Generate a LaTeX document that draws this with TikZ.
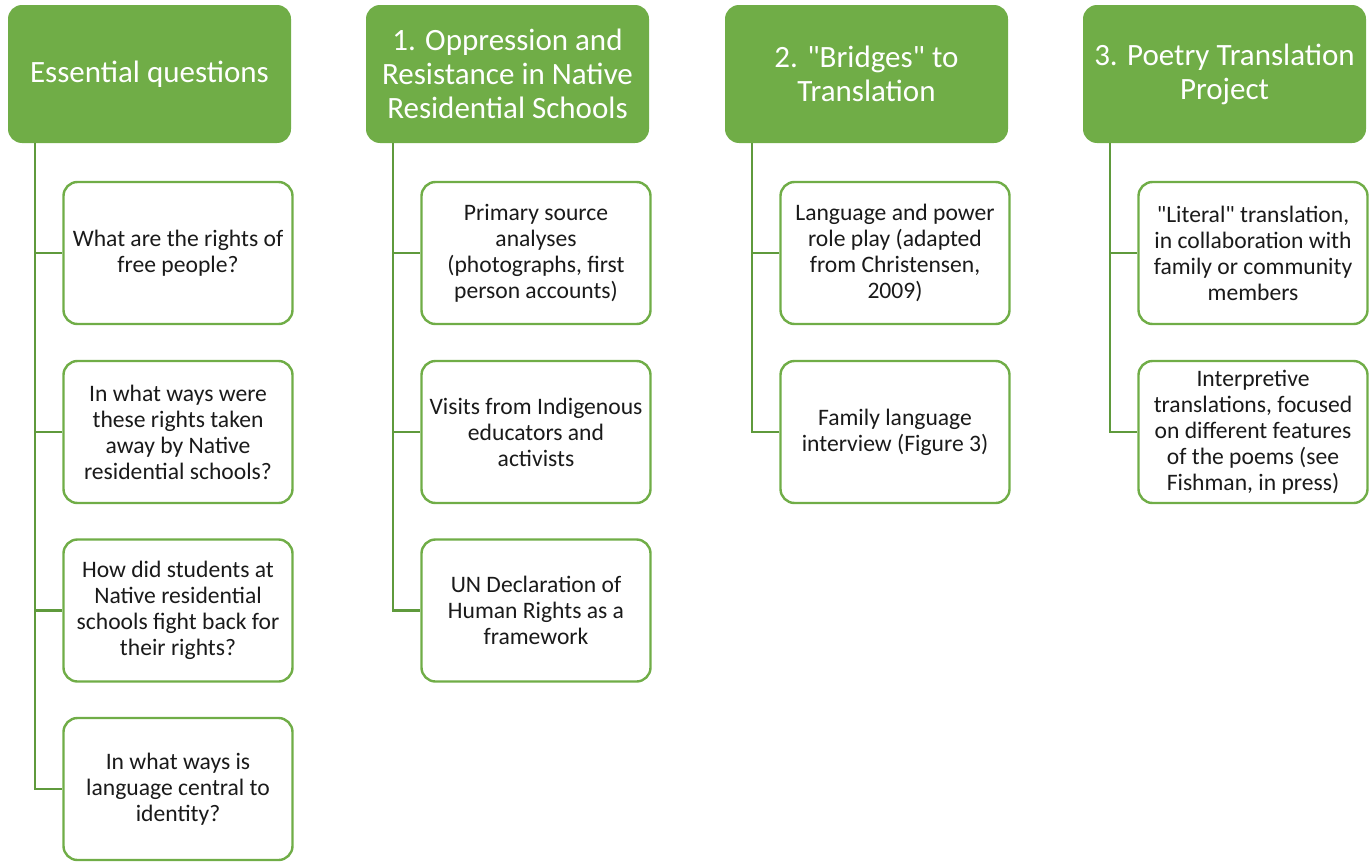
\documentclass[tikz,border=0pt]{standalone}
\usepackage{fontspec}
\setmainfont{Carlito}[Ligatures=TeXOff]
\definecolor{hdrgreen}{HTML}{70AD47}
\definecolor{linegreen}{HTML}{5F9A3C}
\definecolor{txt}{HTML}{1A1A1A}
\newcommand{\dq}{{\char34}}
\begin{document}
\begin{tikzpicture}[x=1pt,y=-1pt,
  header/.style={draw=none,fill=hdrgreen,rounded corners=14pt,minimum width=283pt,minimum height=138pt,
    text=white,align=center,font=\fontsize{31}{34}\selectfont,inner sep=0pt},
  child/.style={draw=hdrgreen,line width=2.4pt,fill=white,rounded corners=14pt,minimum width=229pt,minimum height=142pt,
    text=txt,align=center,font=\fontsize{23.6}{26}\selectfont,inner sep=0pt},
  conn/.style={draw=linegreen,line width=2.6pt}]
\useasboundingbox (0,0) rectangle (1371,862);
% headers
\node[header] (h1) at (149.5,74) {Essential questions};
\node[header] (h2) at (507.5,74) {1. Oppression and\\Resistance in Native\\Residential Schools};
\node[header] (h3) at (866.5,74) {2. \dq Bridges\dq{} to\\Translation};
\node[header] (h4) at (1224.5,74) {3. Poetry Translation\\Project};
% children column 1
\node[child] (a1) at (178,253) {What are the rights of\\free people?};
\node[child] (a2) at (178,432) {In what ways were\\these rights taken\\away by Native\\residential schools?};
\node[child] (a3) at (178,610.5) {How did students at\\Native residential\\schools fight back for\\their rights?};
\node[child] (a4) at (178,789) {In what ways is\\language central to\\identity?};
% column 2
\node[child] (b1) at (536,253) {Primary source\\analyses\\(photographs, first\\person accounts)};
\node[child] (b2) at (536,432) {Visits from Indigenous\\educators and\\activists};
\node[child] (b3) at (536,610.5) {UN Declaration of\\Human Rights as a\\framework};
% column 3
\node[child] (c1) at (895,253) {Language and power\\role play (adapted\\from Christensen,\\2009)};
\node[child] (c2) at (895,432) {Family language\\interview (Figure 3)};
% column 4
\node[child] (d1) at (1253,253) {\dq Literal\dq{} translation,\\in collaboration with\\family or community\\members};
\node[child] (d2) at (1253,432) {Interpretive\\translations, focused\\on different features\\of the poems (see\\Fishman, in press)};
% connectors
\foreach \h/\x/\c in {h1/35/a1,h1/35/a2,h1/35/a3,h1/35/a4,h2/393/b1,h2/393/b2,h2/393/b3,h3/752/c1,h3/752/c2,h4/1110/d1,h4/1110/d2}{
  \draw[conn] (\h.south -| \x,0) |- (\c.west);
}
\end{tikzpicture}
\end{document}
